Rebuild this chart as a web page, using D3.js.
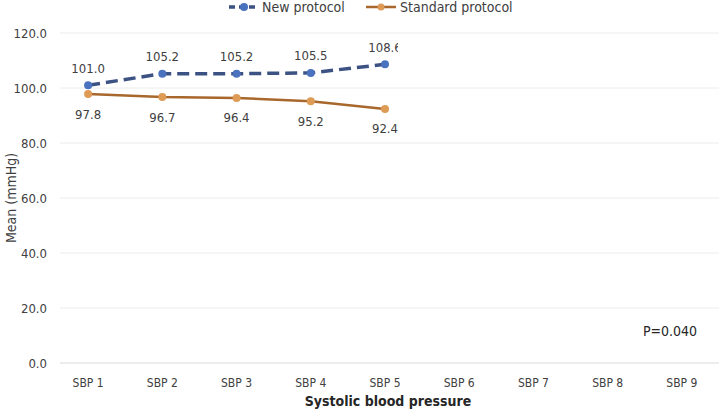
<!DOCTYPE html>
<html>
<head>
<meta charset="utf-8">
<script src="https://cdn.jsdelivr.net/npm/d3@7"></script>
<style>
  html, body { margin: 0; padding: 0; background: #fff; }
  svg { display: block; }
</style>
</head>
<body>
<div id="chart"></div>
<script>
// ── data ──────────────────────────────────────────
const categories = ['SBP 1', 'SBP 2', 'SBP 3', 'SBP 4', 'SBP 5', 'SBP 6', 'SBP 7', 'SBP 8', 'SBP 9'];
const newProtocol      = [101.0, 105.2, 105.2, 105.5, 108.6];
const standardProtocol = [97.8, 96.7, 96.4, 95.2, 92.4];
const yTicks = [0, 20, 40, 60, 80, 100, 120];
const pLabel = 'P=0.040';

const W = 727, H = 409;
const margin = { top: 33, right: 8, bottom: 46, left: 51 };

const BLUE_LINE   = '#3C5283';
const BLUE_DOT    = '#4A72BE';
const ORANGE_LINE = '#A8672C';
const ORANGE_DOT  = '#DE9B55';
const FONT = '"Liberation Sans Narrow", "DejaVu Sans Condensed", "Liberation Sans", sans-serif';

const svg = d3.select('#chart').append('svg')
  .attr('width', W).attr('height', H);

const x = d3.scaleBand()
  .domain(categories)
  .range([margin.left, W - margin.right]);

const y = d3.scaleLinear()
  .domain([0, 120])
  .range([H - margin.bottom, margin.top]);

const cx = (d, i) => x(categories[i]) + x.bandwidth() / 2;

// ── gridlines + y labels ──────────────────────────
svg.append('g').selectAll('line')
  .data(yTicks)
  .join('line')
    .attr('x1', margin.left + 9).attr('x2', W - margin.right)
    .attr('y1', d => y(d)).attr('y2', d => y(d))
    .attr('stroke', d => d === 0 ? '#d9d9d9' : '#ececec')
    .attr('stroke-width', 1);

svg.append('g').selectAll('text')
  .data(yTicks)
  .join('text')
    .attr('x', 47).attr('y', d => y(d))
    .attr('dy', '0.35em')
    .attr('text-anchor', 'end')
    .attr('font-family', FONT)
    .attr('font-size', 13)
    .attr('fill', '#404040')
    .text(d => d.toFixed(1));

// ── x labels ──────────────────────────────────────
svg.append('g').selectAll('text')
  .data(categories)
  .join('text')
    .attr('x', d => x(d) + x.bandwidth() / 2)
    .attr('y', H - margin.bottom + 24)
    .attr('text-anchor', 'middle')
    .attr('font-family', FONT)
    .attr('font-size', 12)
    .attr('fill', '#404040')
    .text(d => d);

// axis titles
svg.append('text')
  .attr('x', (margin.left + W - margin.right) / 2 + 3)
  .attr('y', H - 3)
  .attr('text-anchor', 'middle')
  .attr('font-family', FONT)
  .attr('font-size', 14)
  .attr('font-weight', 'bold')
  .attr('fill', '#262626')
  .text('Systolic blood pressure');

svg.append('text')
  .attr('transform', `translate(16, ${(margin.top + H - margin.bottom) / 2}) rotate(-90)`)
  .attr('text-anchor', 'middle')
  .attr('font-family', FONT)
  .attr('font-size', 14)
  .attr('fill', '#404040')
  .text('Mean (mmHg)');

// ── lines ─────────────────────────────────────────
const line = d3.line().x(cx).y(d => y(d));

svg.append('path')
  .datum(standardProtocol)
  .attr('d', line)
  .attr('fill', 'none')
  .attr('stroke', ORANGE_LINE)
  .attr('stroke-width', 2.5);

svg.append('path')
  .datum(newProtocol)
  .attr('d', line)
  .attr('fill', 'none')
  .attr('stroke', BLUE_LINE)
  .attr('stroke-width', 3.5)
  .attr('stroke-dasharray', '12,6');

svg.append('g').selectAll('circle')
  .data(standardProtocol)
  .join('circle')
    .attr('cx', cx).attr('cy', d => y(d))
    .attr('r', 4)
    .attr('fill', ORANGE_DOT);

svg.append('g').selectAll('circle')
  .data(newProtocol)
  .join('circle')
    .attr('cx', cx).attr('cy', d => y(d))
    .attr('r', 4)
    .attr('fill', BLUE_DOT);

// ── data labels ───────────────────────────────────
svg.append('g').selectAll('text')
  .data(newProtocol)
  .join('text')
    .attr('x', cx).attr('y', d => y(d) - 17)
    .attr('dy', '0.35em')
    .attr('text-anchor', 'middle')
    .attr('font-family', FONT)
    .attr('font-size', 13)
    .attr('fill', '#404040')
    .text(d => d.toFixed(1));

svg.append('g').selectAll('text')
  .data(standardProtocol)
  .join('text')
    .attr('x', cx).attr('y', d => y(d) + 20)
    .attr('dy', '0.35em')
    .attr('text-anchor', 'middle')
    .attr('font-family', FONT)
    .attr('font-size', 13)
    .attr('fill', '#404040')
    .text(d => d.toFixed(1));

// the last blue label is clipped by a white box in the original
const lastX = cx(null, newProtocol.length - 1);
svg.append('rect')
  .attr('x', lastX + 13).attr('y', y(newProtocol[4]) - 26)
  .attr('width', 55).attr('height', 20)
  .attr('fill', '#fff');

// ── P value ───────────────────────────────────────
svg.append('text')
  .attr('x', 670).attr('y', y(12.5) + 2)
  .attr('dy', '0.35em')
  .attr('text-anchor', 'middle')
  .attr('font-family', FONT)
  .attr('font-size', 14)
  .attr('fill', '#262626')
  .text(pLabel);

// ── legend ────────────────────────────────────────
const legend = svg.append('g').attr('transform', 'translate(0, 7)');

legend.append('line')
  .attr('x1', 229).attr('x2', 259).attr('y1', 0).attr('y2', 0)
  .attr('stroke', BLUE_LINE).attr('stroke-width', 3.5)
  .attr('stroke-dasharray', '6,4');
legend.append('circle').attr('cx', 244).attr('cy', 0).attr('r', 4).attr('fill', BLUE_DOT);
legend.append('text')
  .attr('x', 262).attr('y', 0).attr('dy', '0.35em')
  .attr('font-family', FONT).attr('font-size', 14).attr('fill', '#404040')
  .text('New protocol');

legend.append('line')
  .attr('x1', 366).attr('x2', 396).attr('y1', 0).attr('y2', 0)
  .attr('stroke', ORANGE_LINE).attr('stroke-width', 2.5);
legend.append('circle').attr('cx', 381).attr('cy', 0).attr('r', 3.5).attr('fill', ORANGE_DOT);
legend.append('text')
  .attr('x', 400).attr('y', 0).attr('dy', '0.35em')
  .attr('font-family', FONT).attr('font-size', 14).attr('fill', '#404040')
  .text('Standard protocol');
</script>
</body>
</html>
